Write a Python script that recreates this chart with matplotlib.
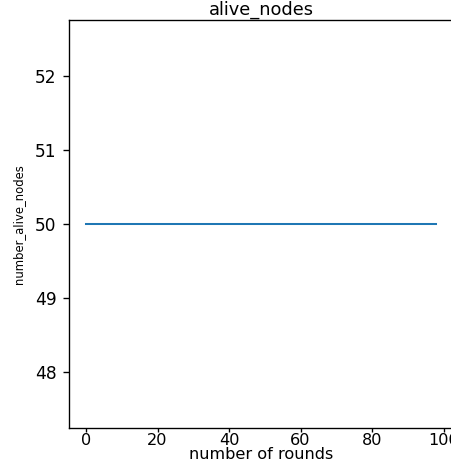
import numpy as np
import matplotlib
matplotlib.use("Agg")
import matplotlib.pyplot as plt

# alive nodes per round (constant over the run)
rounds = list(range(99))
alive_nodes = [50] * 99

DPI = 122
fig = plt.figure(figsize=(451 / DPI, 465 / DPI), dpi=DPI)
# axes runs past the right edge, as in the reference crop
ax = fig.add_axes([68.5 / 451, 37.4 / 465, 385.5 / 451, 407.3 / 465])
ax.plot(rounds, alive_nodes, lw=1.2)
ax.set_title("alive_nodes", fontsize=10.5, pad=3)
ax.tick_params(axis="x", length=2.3, pad=1.0, labelsize=9.5)
ax.set_xlabel("number of rounds", fontsize=9.5)
ax.xaxis.set_label_coords(0.5, -0.048)
ax.set_ylabel("number_alive_nodes", family="DejaVu Sans",
              fontstretch="condensed", fontsize=7.6)
ax.yaxis.set_label_coords(-0.112, 0.5)

fig.savefig("out.png", dpi=DPI)
